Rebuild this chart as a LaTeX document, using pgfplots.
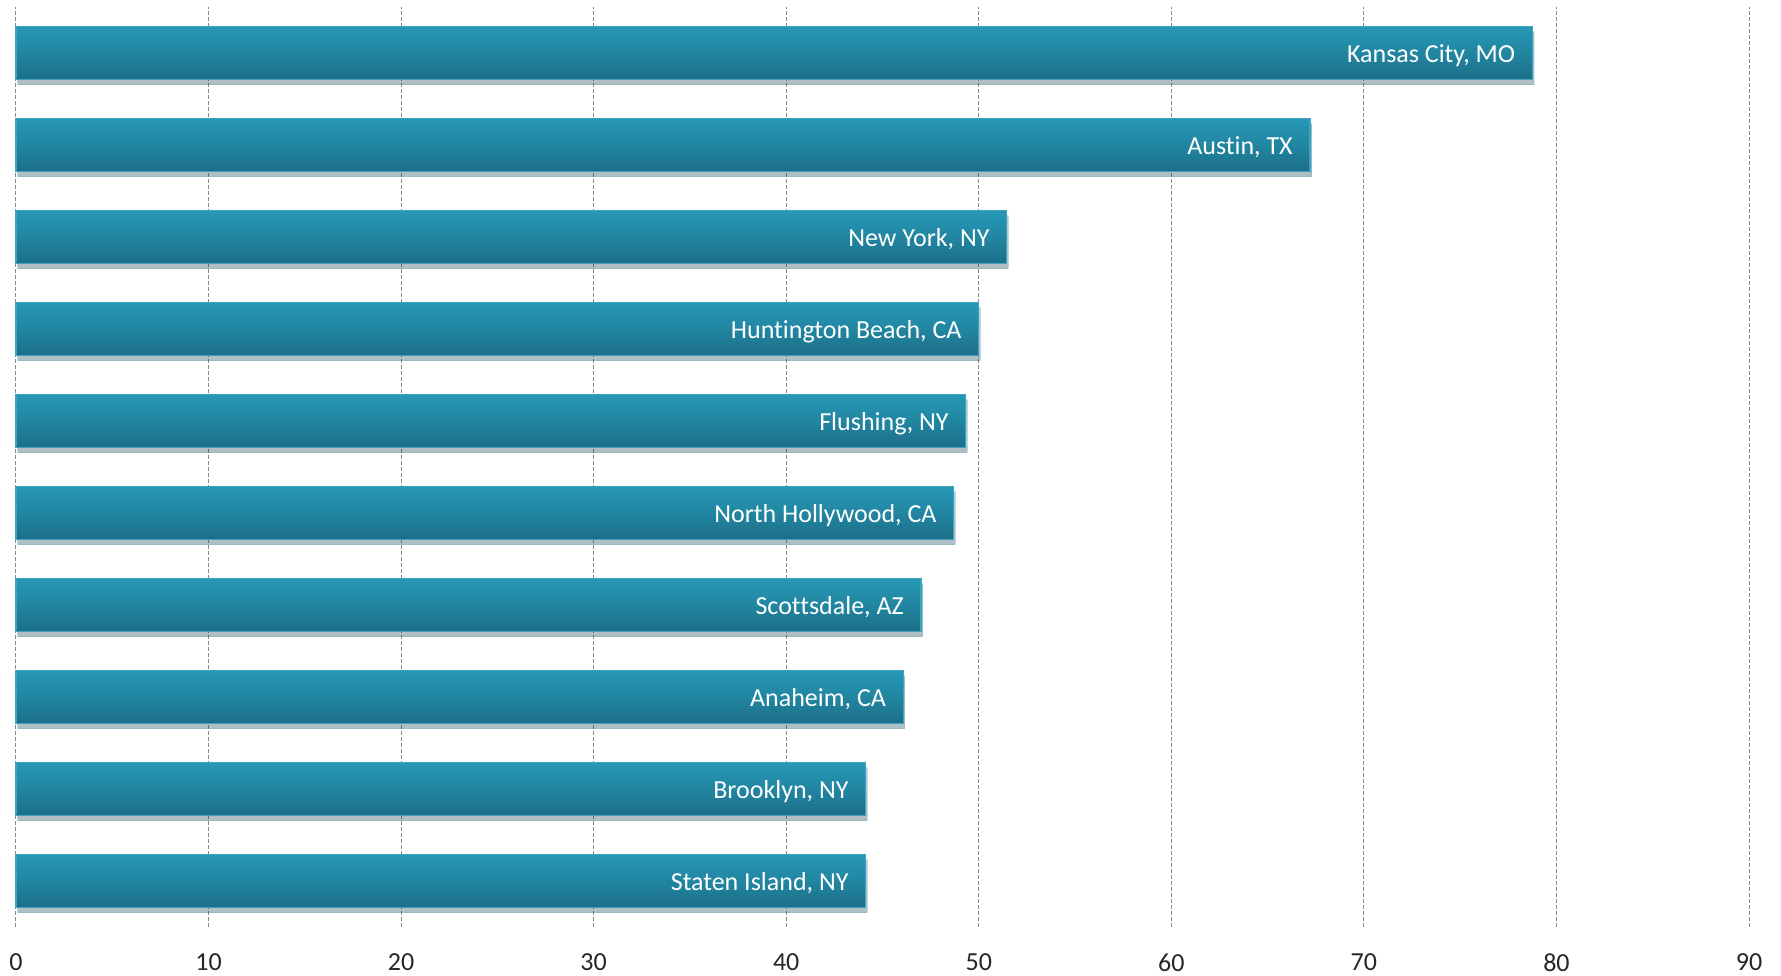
\documentclass[border=0pt]{standalone}
\usepackage{pgfplots}
\pgfplotsset{compat=1.18}
\usepackage{fontspec}
\setmainfont{Carlito}[Ligatures=NoCommon]
\usetikzlibrary{shadows}
\definecolor{bartop}{HTML}{2699B7}
\definecolor{barbot}{HTML}{1C6E86}
\definecolor{baredge}{HTML}{3EA3BE}
\definecolor{gridc}{HTML}{8A8A8A}
\pgfplotsset{citybar/.style={xbar, bar width=26.5pt, top color=bartop, bottom color=barbot,
  middle color=bartop!55!barbot,
  draw=baredge, line width=0.6pt,
  drop shadow={shadow xshift=0.8pt, shadow yshift=-2.5pt, opacity=0.18, fill=black},
  nodes near coords, point meta=explicit symbolic,
  nodes near coords style={anchor=base east, xshift=-8.3pt, yshift=-4.6pt, inner sep=0pt, text=white, font=\fontsize{13}{15}\selectfont}}}
\begin{document}
\begin{tikzpicture}
\begin{axis}[
  width=866.5pt, height=460pt,
  scale only axis,
  xmin=0, xmax=90,
  ymin=-0.5, ymax=9.5,
  xtick={0,10,...,90},
  ytick=\empty,
  xmajorgrids,
  major grid style={gridc, line width=0.5pt, dash pattern=on 2pt off 1pt},
  axis line style={draw=none},
  major tick length=0pt,
  /pgf/number format/assume math mode=true,
  xticklabel style={font=\fontsize{13}{15}\selectfont, text=black!85, yshift=-10pt},
  clip=false,
]
\addplot[citybar] coordinates {(78.75,9) [{Kansas City, MO}]};
\addplot[citybar] coordinates {(67.2,8) [{Austin, TX}]};
\addplot[citybar] coordinates {(51.45,7) [{New York, NY}]};
\addplot[citybar] coordinates {(50.0,6) [{Huntington Beach, CA}]};
\addplot[citybar] coordinates {(49.33,5) [{Flushing, NY}]};
\addplot[citybar] coordinates {(48.7,4) [{North Hollywood, CA}]};
\addplot[citybar] coordinates {(47.0,3) [{Scottsdale, AZ}]};
\addplot[citybar] coordinates {(46.07,2) [{Anaheim, CA}]};
\addplot[citybar] coordinates {(44.13,1) [{Brooklyn, NY}]};
\addplot[citybar] coordinates {(44.13,0) [{Staten Island, NY}]};
\end{axis}
\pgfresetboundingbox
\path (current axis.south west) ++(-8pt,-24pt) rectangle ++(890.5pt,487.5pt);
\end{tikzpicture}
\end{document}
